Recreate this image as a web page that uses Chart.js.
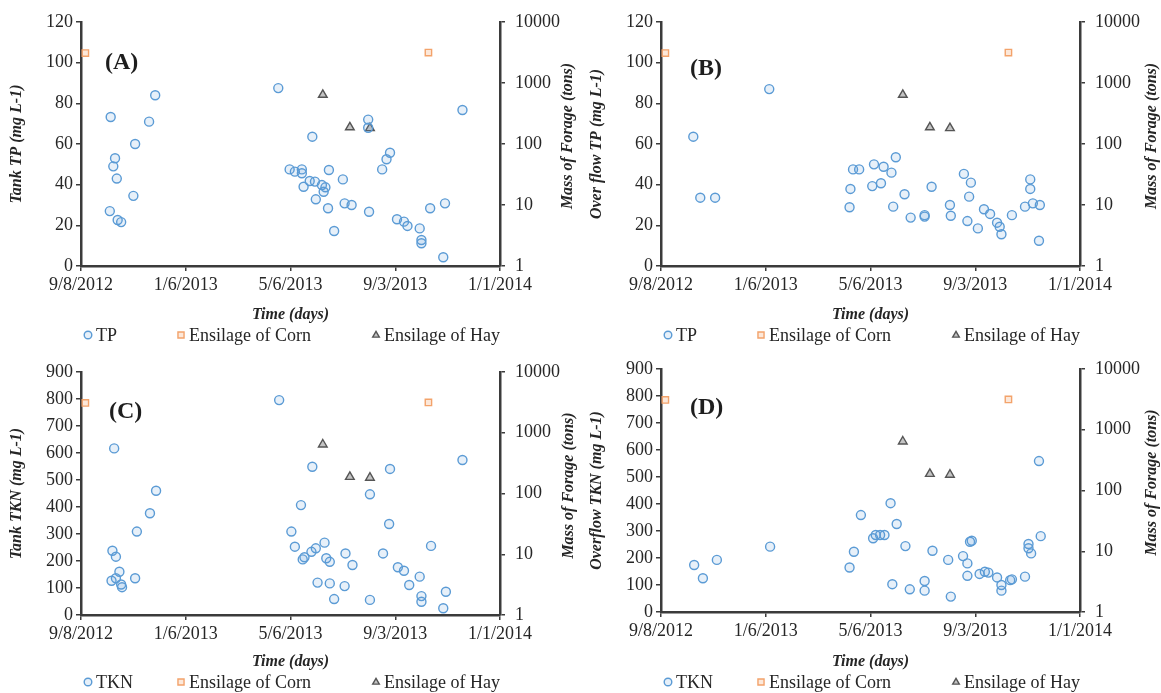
<!DOCTYPE html>
<html><head><meta charset="utf-8">
<script src="https://cdn.jsdelivr.net/npm/chart.js@4.4.0/dist/chart.umd.min.js"></script>
<style>
html,body{margin:0;padding:0;background:#fff;}
#wrap{position:relative;width:1161px;height:693px;overflow:hidden;}
.p{position:absolute;}
</style></head><body>
<div id="wrap">
<div class="p" style="left:0;top:0;width:580px;height:346px"><canvas id="cA"></canvas></div>
<div class="p" style="left:580px;top:0;width:581px;height:346px"><canvas id="cB"></canvas></div>
<div class="p" style="left:0;top:346px;width:580px;height:347px"><canvas id="cC"></canvas></div>
<div class="p" style="left:580px;top:346px;width:581px;height:347px"><canvas id="cD"></canvas></div>
</div>
<script>
// ---- data (x = days since 9/8/2012) ----
const startDate = Date.UTC(2012, 8, 8);
const xTickStepDays = 120;
const xMaxDays = 480;
const forageTicks = [1, 10, 100, 1000, 10000];

const cornDays = [5, 398];
const cornMass = [3100, 3150];
const hayDays = [277, 308, 331];
const hayMass = [640, 188, 182];

const tankTpDays = [33, 34, 37, 39, 41, 42, 46, 60, 62, 78, 85, 226,
  239, 245, 253, 253, 265, 284, 262, 268, 276, 280, 278, 255, 300, 269, 283, 302, 310, 290,
  330, 329, 329, 345, 350, 354, 362, 370, 374, 388, 390, 390, 400, 417, 415, 437];
const tankTpValues = [27, 73.3, 49, 53, 43, 22.6, 21.6, 34.5, 60, 71, 84, 87.5,
  47.5, 46.4, 47.5, 45.6, 63.6, 47.2, 41.8, 41.5, 39.8, 38.7, 36.5, 39, 42.6, 32.8, 28.4, 30.8, 30, 17.2,
  26.7, 72, 68, 47.5, 52.5, 55.7, 23, 21.8, 19.7, 18.5, 12.8, 11.2, 28.4, 30.8, 4.3, 76.7];

const overflowTpDays = [37, 45, 62, 124, 216, 217, 220, 227, 244, 255, 264, 269, 242, 252, 279, 266,
  286, 302, 302, 310, 332, 331, 347, 355, 353, 351, 363, 370, 377, 385, 388, 390, 402,
  417, 426, 434, 423, 423, 433];
const overflowTpValues = [63.6, 33.6, 33.6, 87, 28.9, 37.9, 47.5, 47.5, 50, 48.8, 45.9, 53.5, 39.3, 40.7, 35.3, 29.2,
  23.8, 25, 24.3, 39, 24.7, 30, 45.3, 41, 34.1, 22.1, 18.5, 27.9, 25.6, 21.3, 19.3, 15.6, 25,
  29.2, 30.8, 30, 42.6, 37.9, 12.4];

const tankTknDays = [38, 36, 40, 35, 40, 44, 47, 46, 62, 64, 79, 86, 227,
  265, 252, 241, 245, 254, 256, 264, 269, 279, 281, 285, 303, 311, 271, 285, 302, 290,
  331, 331, 354, 353, 346, 363, 370, 376, 388, 401, 390, 390, 418, 415, 437];
const tankTknValues = [617, 238, 216, 127, 136, 160, 103, 113, 136, 309, 377, 460, 796,
  549, 407, 309, 253, 206, 214, 234, 247, 268, 210, 197, 228, 185, 120, 117, 107, 59,
  56, 447, 541, 337, 228, 177, 164, 111, 142, 256, 70, 49, 86, 25, 574];

const overflowTknDays = [38, 48, 64, 125, 216, 221, 229, 243, 246, 251, 256, 263, 270, 280, 265, 285,
  302, 302, 311, 332, 329, 346, 351, 354, 356, 351, 365, 371, 375, 385, 390, 390, 400, 402,
  417, 421, 421, 424, 435, 433];
const overflowTknValues = [174, 125, 193, 242, 165, 223, 359, 273, 285, 285, 285, 403, 326, 244, 103, 84,
  115, 79, 227, 57, 193, 207, 180, 260, 264, 134, 141, 149, 146, 128, 100, 79, 118, 121,
  131, 252, 236, 217, 281, 559];

// ---- styling ----
const AX = '#3b3b3b';
const TXT = '#262626';
const SERIF = '"Liberation Serif", "Times New Roman", serif';

function pts(xs, ys) { return xs.map((x, i) => ({ x: x, y: ys[i] })); }
function fmtDate(v) {
  const d = new Date(startDate + v * 86400000);
  return (d.getUTCMonth() + 1) + '/' + d.getUTCDate() + '/' + d.getUTCFullYear();
}

function drawMarker(ctx, style, x, y, r, stroke, fill) {
  ctx.save();
  ctx.strokeStyle = stroke; ctx.fillStyle = fill; ctx.lineWidth = 1.4;
  ctx.beginPath();
  if (style === 'circle') ctx.arc(x, y, r, 0, Math.PI * 2);
  else if (style === 'rect') ctx.rect(x - r * 0.8, y - r * 0.8, r * 1.6, r * 1.6);
  else { const h = r * 1.5; ctx.moveTo(x, y - h * 0.62); ctx.lineTo(x + r * 0.87, y + h * 0.38); ctx.lineTo(x - r * 0.87, y + h * 0.38); ctx.closePath(); }
  ctx.fill(); ctx.stroke();
  ctx.restore();
}

const panelDeco = {
  id: 'panelDeco',
  afterDraw(chart, args, o) {
    const ctx = chart.ctx, ca = chart.chartArea;
    ctx.save();
    // panel letter
    ctx.fillStyle = '#1e1e1e';
    ctx.font = 'bold 24px ' + SERIF;
    ctx.textBaseline = 'middle'; ctx.textAlign = 'left';
    ctx.fillText(o.letter, ca.left + o.letterDx, ca.top + o.letterDy);
    // right axis title (rotated like the left one)
    ctx.font = 'bold italic 16px ' + SERIF;
    ctx.fillStyle = TXT;
    ctx.save();
    ctx.translate(o.rightTitleX, (ca.top + ca.bottom) / 2 + o.rightTitleDy);
    ctx.rotate(-Math.PI / 2);
    ctx.textAlign = 'center';
    ctx.fillText('Mass of Forage (tons)', 0, 0);
    ctx.restore();
    // legend
    ctx.font = '18px ' + SERIF;
    ctx.textAlign = 'left';
    chart.data.datasets.forEach((ds, i) => {
      const x = o.legendX[i];
      drawMarker(ctx, ds.pointStyle, x, o.legendY, 3.8, ds.borderColor, ds.backgroundColor);
      ctx.fillStyle = TXT;
      ctx.fillText(ds.label, x + 8, o.legendY + 1);
    });
    ctx.restore();
  }
};

function makeChart(id, c) {
  const tickFont = { family: SERIF, size: 18 };
  const titleFont = { family: SERIF, size: 16, weight: 'bold', style: 'italic' };
  return new Chart(document.getElementById(id), {
    type: 'scatter',
    data: {
      datasets: [
        { label: c.label, data: pts(c.days, c.values), yAxisID: 'y', pointStyle: 'circle',
          pointRadius: 4.5, borderWidth: 1.4, borderColor: '#5b9bd5', backgroundColor: 'rgba(91,155,213,0.15)' },
        { label: 'Ensilage of Corn', data: pts(cornDays, cornMass), yAxisID: 'y2', pointStyle: 'rect',
          pointRadius: 4.5, borderWidth: 1.4, borderColor: '#f3a36b', backgroundColor: 'rgba(243,163,107,0.25)' },
        { label: 'Ensilage of Hay', data: pts(hayDays, hayMass), yAxisID: 'y2', pointStyle: 'triangle',
          pointRadius: 5, borderWidth: 1.4, borderColor: '#555555', backgroundColor: 'rgba(85,85,85,0.35)' }
      ]
    },
    options: {
      responsive: true, maintainAspectRatio: false, animation: false,
      layout: { padding: { top: c.top, left: 0, right: 0, bottom: 0 } },
      plugins: {
        legend: { display: false }, tooltip: { enabled: false },
        panelDeco: { letter: c.letter, letterDx: c.letterDx, letterDy: c.letterDy,
          rightTitleX: c.rightTitleX, rightTitleDy: -8,
          legendX: [88, 181, 376], legendY: c.legendY }
      },
      scales: {
        x: {
          type: 'linear', position: 'bottom', min: 0, max: xMaxDays,
          ticks: { stepSize: xTickStepDays, callback: fmtDate, font: tickFont, color: TXT, padding: 3, maxRotation: 0, autoSkip: false },
          grid: { drawOnChartArea: false, tickLength: 5, color: AX, lineWidth: 1.5 },
          border: { color: AX, width: 2.5 },
          title: { display: true, text: 'Time (days)', font: titleFont, color: TXT, padding: { top: 0, bottom: 22 } },
          afterFit: s => { s.height = c.xh; }
        },
        y: {
          position: 'left', min: 0, max: c.ymax,
          ticks: { stepSize: c.ystep, font: tickFont, color: TXT, padding: 3 },
          grid: { drawOnChartArea: false, tickLength: 5, color: AX, lineWidth: 1.5 },
          border: { color: AX, width: 2.5 },
          title: { display: true, text: c.yTitle, font: titleFont, color: TXT, padding: { top: 7, bottom: 0 } },
          afterFit: s => { s.width = 81; }
        },
        y2: {
          type: 'logarithmic', position: 'right', min: 1, max: 10000,
          afterBuildTicks: s => { s.ticks = forageTicks.map(v => ({ value: v })); },
          ticks: { callback: v => String(v), font: tickFont, color: TXT, padding: 10 },
          grid: { drawOnChartArea: false, tickLength: 5, color: AX, lineWidth: 1.5 },
          border: { color: AX, width: 2.5 },
          afterFit: s => { s.width = c.rw; }
        }
      }
    },
    plugins: [panelDeco]
  });
}

makeChart('cA', { label: 'TP', days: tankTpDays, values: tankTpValues, yTitle: 'Tank TP (mg L-1)',
  ymax: 120, ystep: 20, top: 22, xh: 80, rw: 80, letter: '(A)', letterDx: 24, letterDy: 41,
  rightTitleX: 568, legendY: 335 });
makeChart('cB', { label: 'TP', days: overflowTpDays, values: overflowTpValues, yTitle: 'Over flow TP (mg L-1)',
  ymax: 120, ystep: 20, top: 22, xh: 80, rw: 81, letter: '(B)', letterDx: 29, letterDy: 47,
  rightTitleX: 572, legendY: 335 });
makeChart('cC', { label: 'TKN', days: tankTknDays, values: tankTknValues, yTitle: 'Tank TKN (mg L-1)',
  ymax: 900, ystep: 100, top: 26, xh: 78, rw: 80, letter: '(C)', letterDx: 28, letterDy: 40,
  rightTitleX: 569, legendY: 336 });
makeChart('cD', { label: 'TKN', days: overflowTknDays, values: overflowTknValues, yTitle: 'Overflow TKN (mg L-1)',
  ymax: 900, ystep: 100, top: 23, xh: 81, rw: 81, letter: '(D)', letterDx: 29, letterDy: 39,
  rightTitleX: 572, legendY: 336 });
</script>
</body></html>
